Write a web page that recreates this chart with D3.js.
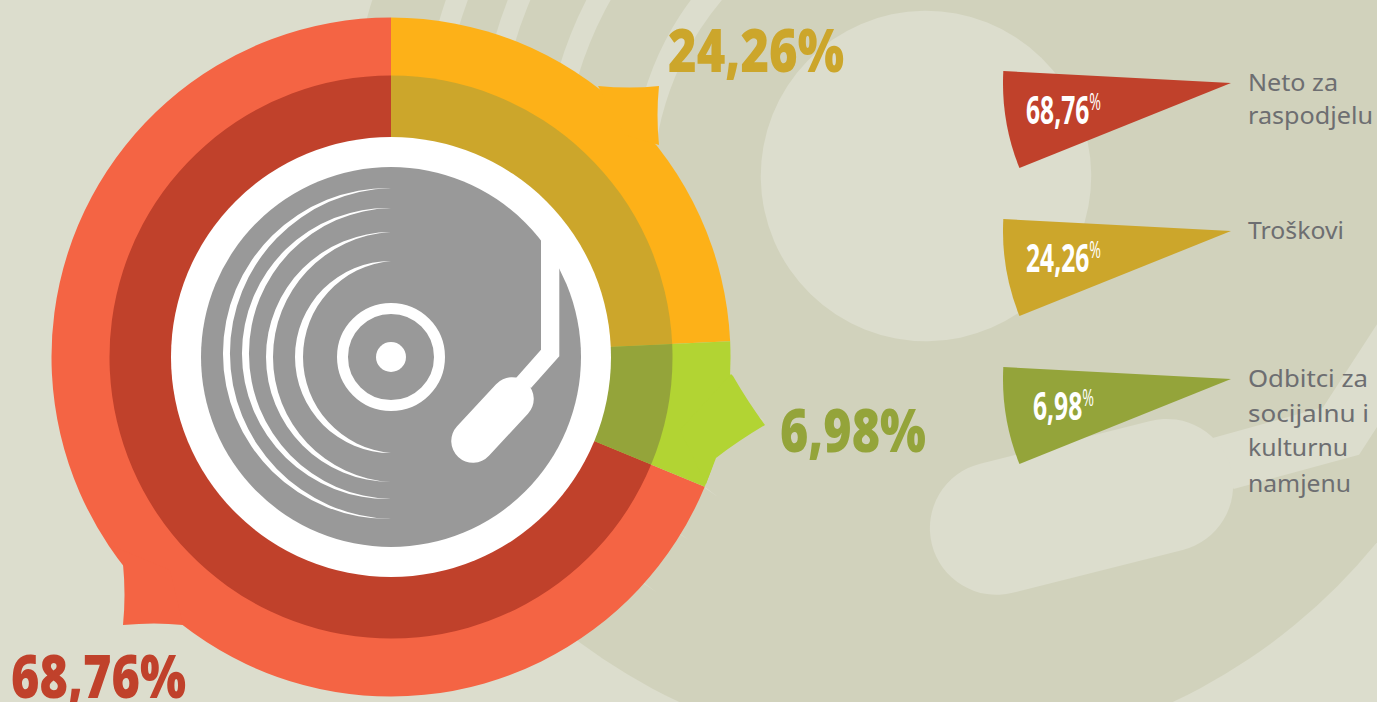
<!DOCTYPE html>
<html><head><meta charset="utf-8">
<script src="https://cdn.jsdelivr.net/npm/d3@7/dist/d3.min.js"></script>
<style>html,body{margin:0;padding:0;background:#dcddcd;overflow:hidden}svg{display:block}</style>
</head><body><svg id="c" width="1377" height="702"></svg>
<script>
const categories = ["Neto za raspodjelu", "Troškovi", "Odbitci za socijalnu i kulturnu namjenu"];
const values = [68.76, 24.26, 6.98];
const valueLabels = ["68,76", "24,26", "6,98"];
const legendLines = [["Neto za", "raspodjelu"], ["Troškovi"], ["Odbitci za", "socijalnu i", "kulturnu", "namjenu"]];
const outerColors = ["#f46444", "#fdb118", "#b2d433"];
const innerColors = ["#c0412b", "#cca62b", "#94a43a"];

const BG = "#dcddcd", DISC = "#d1d2bc", GREY = "#999999", TXT = "#6d6e71";
const svg = d3.select("#c");
const cx = 391, cy = 357;

svg.append("rect").attr("width", 1377).attr("height", 702).attr("fill", BG);

// SVG arc segment from (0,-T) via (-L,0) to (0,B), in either direction
function arcSeg(T, L, B, reverse) {
  const h = (T + B) / 2, c = (B - T) / 2, a = (h * h - L * L - c * c) / (2 * L);
  const R = Math.sqrt(a * a + h * h), large = L > h ? 1 : 0;
  return reverse ? `A${R},${R} 0 ${large} 1 0,${-T}` : `A${R},${R} 0 ${large} 0 0,${B}`;
}

// Turntable icon, in units of a 190px-radius record
function drawIcon(g, color, solidLabel) {
  [[169, 168, 161, 162], [149, 149, 142, 142], [125, 125, 118, 125], [96, 96, 88, 96]].forEach(([T, L, r, B]) => {
    g.append("path").attr("fill", color)
      .attr("d", `M0,${-T}${arcSeg(T, L, B, false)}${arcSeg(T, r, B, true)}Z`);
  });
  if (solidLabel) {
    g.append("circle").attr("r", 54).attr("fill", color);
  } else {
    g.append("circle").attr("r", 48.5).attr("fill", "none").attr("stroke", color).attr("stroke-width", 11);
    g.append("circle").attr("r", 15).attr("fill", color);
  }
  g.append("path").attr("fill", color)
    .attr("d", "M150,-137L150,-7.3L125,21L140,31L168.3,-0.7L168.3,-137Z");
  g.append("line").attr("x1", 82).attr("y1", 84).attr("x2", 121).attr("y2", 42)
    .attr("stroke", color).attr("stroke-width", 43.5).attr("stroke-linecap", "round");
}

// Background record
const big = svg.append("g").attr("transform", "translate(926,176)");
big.append("circle").attr("r", 581).attr("fill", DISC);
drawIcon(big.append("g").attr("transform", "rotate(33) scale(3.06)"), BG, true);

// Donut
const total = d3.sum(values);
const start = -2 * Math.PI * values[0] / total;
const pie = d3.pie().sort(null).startAngle(start).endAngle(start + 2 * Math.PI);
const arcs = pie(values);
const outerArc = d3.arc().innerRadius(0).outerRadius(339.5);
const innerArc = d3.arc().innerRadius(0).outerRadius(281.5);
const donut = svg.append("g").attr("transform", `translate(${cx},${cy})`);
donut.selectAll("path.o").data(arcs).join("path").attr("class", "o")
  .attr("d", outerArc).attr("fill", (d, i) => outerColors[i]);

// Speech-bubble spikes on the outer ring
const spikes = [
  "M110,545L123,564Q126,595 123,625Q155,622 183,625L170,570Z",
  "M598,86Q630,89 659,86Q656,115 659,145L625,135Z",
  "M731,374L733,376Q748,402 765,425Q738,441 716,458L706,484L680,430Z"
];
svg.selectAll("path.s").data(spikes).join("path").attr("class", "s")
  .attr("d", d => d).attr("fill", (d, i) => outerColors[i]);

const donut2 = svg.append("g").attr("transform", `translate(${cx},${cy})`);
donut2.selectAll("path.i").data(arcs).join("path").attr("class", "i")
  .attr("d", innerArc).attr("fill", (d, i) => innerColors[i]);
donut2.append("circle").attr("r", 220).attr("fill", "#fff");
donut2.append("circle").attr("r", 190).attr("fill", GREY);
drawIcon(donut2.append("g"), "#fff", false);

function label(x, y, width, size, weight, fill, str) {
  return svg.append("text").attr("x", x).attr("y", y)
    .attr("textLength", width).attr("lengthAdjust", "spacingAndGlyphs")
    .attr("font-family", "'Open Sans',sans-serif").attr("font-size", size)
    .attr("font-weight", weight).attr("fill", fill).text(str);
}

// Big value labels
const bigPos = [[11, 698, 175], [668, 72, 176], [780, 452, 146]];
values.forEach((v, i) => {
  label(bigPos[i][0], bigPos[i][1], bigPos[i][2], 60, 800, innerColors[i], valueLabels[i] + "%");
});

// Legend wedges
const wedge = d3.arc().innerRadius(0).outerRadius(228)
  .startAngle(-111.9 * Math.PI / 180).endAngle(-87 * Math.PI / 180);
const legendX = 1231, legendY = d3.scalePoint().domain(categories).range([83, 379]);
categories.forEach((c, i) => {
  const ty = legendY(c);
  svg.append("path").attr("transform", `translate(${legendX},${ty})`).attr("d", wedge()).attr("fill", innerColors[i]);
  const single = valueLabels[i].length < 5;
  const t = label(single ? 1033 : 1026, ty + 41, single ? 61 : 75, 40, 700, "#fff", valueLabels[i]);
  t.append("tspan").attr("dy", -14).attr("font-size", 23).attr("font-weight", 400).text("%");
});

// Legend text
const lineWidths = [[90, 125], [96], [120, 121, 100, 103]];
const lineBase = [[91, 124], [239], [387, 422, 456, 492]];
legendLines.forEach((lines, i) => lines.forEach((t, j) => {
  svg.append("text").attr("x", 1248).attr("y", lineBase[i][j])
    .attr("textLength", lineWidths[i][j]).attr("lengthAdjust", "spacingAndGlyphs")
    .attr("font-family", "'Noto Sans',sans-serif").attr("font-size", 23).attr("fill", TXT).text(t);
}));
</script></body></html>
